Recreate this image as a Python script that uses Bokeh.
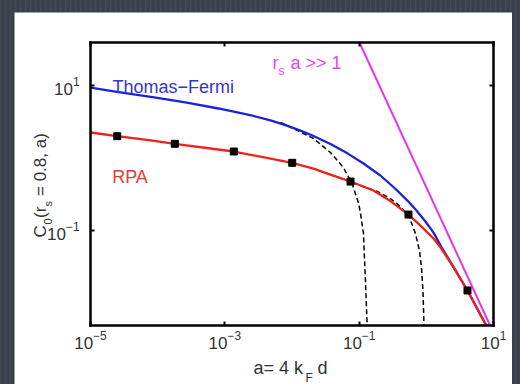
import math
from math import pi

from bokeh.embed import file_html
from bokeh.layouts import column
from bokeh.models import CustomJSTickFormatter, FixedTicker, Label, LogAxis, Range1d
from bokeh.plotting import figure
from bokeh.resources import INLINE

# ---------------------------------------------------------------- data
# axes box extents (a = 4 k_F d on x, C_0 on y) and decade ticks
box_a = (1e-5, 10.0)
box_c = (0.0049, 39.2)
x_ticks = [1e-5, 1e-3, 1e-1, 10.0]
y_ticks = [0.1, 10.0]

# Thomas-Fermi curve (joins the RPA curve at large a)
tf_a = [1.0e-5, 2.61e-5, 8.38e-5, 2.59e-4, 8.05e-4, 2.58e-3, 4.79e-3, 8.0e-3,
        0.01337, 0.0209, 0.0374, 0.067, 0.116, 0.207, 0.336, 0.524,
        0.713, 0.970, 1.28, 1.63, 2.54, 4.10, 7.80]
tf_c = [9.38, 8.13, 6.90, 5.86, 4.82, 3.83, 3.31, 2.84,
        2.39, 2.01, 1.56, 1.16, 0.840, 0.574, 0.386, 0.259,
        0.189, 0.133, 0.0937, 0.0621, 0.0312, 0.0149, 0.0049]

# RPA curve
rpa_a = [1.0e-5, 2.50e-5, 8.38e-5, 1.80e-4, 1.36e-3, 0.01007, 0.0209, 0.0374,
         0.0743, 0.163, 0.292, 0.542, 0.818, 1.28, 1.63, 2.54, 4.10, 7.80]
rpa_c = [2.25, 2.00, 1.74, 1.57, 1.23, 0.859, 0.716, 0.591,
         0.474, 0.356, 0.255, 0.166, 0.117, 0.0776, 0.0583, 0.0312, 0.0149, 0.0049]

# computed points on the RPA curve
pts_a = [2.50e-5, 1.80e-4, 1.36e-3, 0.01007, 0.0743, 0.542, 4.10]
pts_c = [2.00, 1.57, 1.23, 0.859, 0.474, 0.166, 0.0149]

# large r_s a asymptote
asym_a = [0.101, 8.9]
asym_c = [39.2, 0.0049]

# finite-size cut-off curves
cut1_a = [6.75e-3, 0.0105, 0.0209, 0.0374, 0.0583, 0.0787, 0.0986, 0.1047,
          0.116, 0.118, 0.124, 0.1315]
cut1_c = [3.1, 2.55, 1.86, 1.19, 0.739, 0.441, 0.233, 0.171,
          0.091, 0.0583, 0.0204, 0.0049]
cut2_a = [0.0374, 0.1047, 0.1875, 0.292, 0.385, 0.542, 0.689, 0.790,
          0.847, 0.891, 0.923]
cut2_c = [0.591, 0.418, 0.345, 0.276, 0.225, 0.164, 0.091, 0.053,
          0.0309, 0.0149, 0.0049]

# ---------------------------------------------------------------- styles
FONT = "Liberation Sans"
BLUE = "#1c22d8"
RED = "#f0201a"
MAGENTA = "#e636e6"
INK = "#333333"

# white card size and the margins between its edge and the axes box (px)
CARD_W, CARD_H = 498, 372
PAD_L, PAD_R, PAD_T, PAD_B = 76, 19, 30, 59


def padded_log_range(lo, hi, pad_lo, pad_hi, span_px):
    """Log range whose inner [lo, hi] part fills span_px pixels."""
    per_px = math.log10(hi / lo) / span_px
    return Range1d(10 ** (math.log10(lo) - pad_lo * per_px),
                   10 ** (math.log10(hi) + pad_hi * per_px))


p = figure(
    width=CARD_W, height=CARD_H,
    x_axis_type="log", y_axis_type="log",
    x_range=padded_log_range(*box_a, PAD_L, PAD_R, CARD_W - PAD_L - PAD_R),
    y_range=padded_log_range(*box_c, PAD_B, PAD_T, CARD_H - PAD_T - PAD_B),
    min_border=0,
    output_backend="svg", toolbar_location=None,
    background_fill_color="white", border_fill_color="white",
)
p.margin = (12, 8, 0, 14)
p.title.visible = False
p.grid.visible = False
p.outline_line_color = None

# boxed axes: ticks inside on all four sides, labels on left and bottom
p.add_layout(LogAxis(), "above")
p.add_layout(LogAxis(), "right")
blank = CustomJSTickFormatter(code="return ''")
sides = [(p.below[0], box_c[0], box_a, x_ticks, True),
         (p.above[0], box_c[1], box_a, x_ticks, False),
         (p.left[0], box_a[0], box_c, y_ticks, True),
         (p.right[0], box_a[1], box_c, y_ticks, False)]
for ax, loc, bounds, ticks, labelled in sides:
    ax.fixed_location = loc
    ax.bounds = bounds
    ax.ticker = FixedTicker(ticks=ticks, minor_ticks=[])
    ax.axis_line_color = "black"
    ax.axis_line_width = 2.5
    ax.axis_line_cap = "square"
    ax.major_tick_in = 4
    ax.major_tick_out = 0
    ax.major_tick_line_width = 2
    ax.major_tick_line_color = "black"
    ax.minor_tick_line_color = None
    ax.major_label_text_font = FONT
    ax.major_label_text_font_size = "17px"
    ax.major_label_text_color = INK
    if not labelled:
        ax.formatter = blank
p.below[0].major_label_standoff = 5
p.left[0].major_label_standoff = 11

# ---------------------------------------------------------------- curves
dash = dict(line_color="black", line_width=1.5, line_dash="5 3")
p.line(cut1_a, cut1_c, **dash)
p.line(cut2_a, cut2_c, **dash)
p.line(tf_a, tf_c, line_color=BLUE, line_width=2.3, line_join="round")
p.line(rpa_a, rpa_c, line_color=RED, line_width=2.3, line_join="round")
p.line(asym_a, asym_c, line_color=MAGENTA, line_width=2)
p.scatter(pts_a, pts_c, marker="square", size=7, color="black")


# ---------------------------------------------------------------- text
def rich_label(x, y, pieces, color, angle=0.0):
    """Draw a run of text pieces (text, dx, dy, size) anchored at one point."""
    for text, dx, dy, size in pieces:
        p.add_layout(Label(
            x=x, y=y, x_offset=dx, y_offset=dy, text=text, angle=angle,
            text_font=FONT, text_font_size=f"{size}px", text_color=color,
            text_align="left", text_baseline="alphabetic",
        ))


# in-plot annotations
rich_label(2.13e-5, 9.4, [("Thomas\u2212Fermi", 0, 0, 18)], "#3535cc")
rich_label(2.10e-5, 0.547, [("RPA", 0, 0, 18)], "#e83a3a")
rich_label(5.13e-3, 20.7, [("r", 0, 0, 18), ("s", 6, -8, 12), ("a >> 1", 18, 0, 18)],
           "#ee44ee")

# axis titles, placed from the lower-left corner of the axes box
rich_label(box_a[0], box_c[0],
           [("a= 4 k", 163, -42, 18), ("F", 215, -52, 12), ("d", 227, -42, 18)],
           INK)
rich_label(box_a[0], box_c[0],
           [("C", -50, 88, 17), ("0", -43, 101, 11), ("(r", -50, 107.5, 17),
            ("s", -43, 119, 11), ("= 0.8, a)", -50, 129.5, 17)],
           INK, angle=pi / 2)

# dark slide backdrop with a faint brushed grain
backdrop = {
    "background-color": "#3d414d",
    "background-image": (
        "repeating-linear-gradient(90deg, rgba(255,255,255,0.035) 0px, "
        "rgba(255,255,255,0.035) 1px, rgba(0,0,0,0.05) 2px, rgba(0,0,0,0) 5px)"
    ),
}
page = column(p, styles=backdrop)
open("out.html", "w").write(file_html(page, INLINE))
